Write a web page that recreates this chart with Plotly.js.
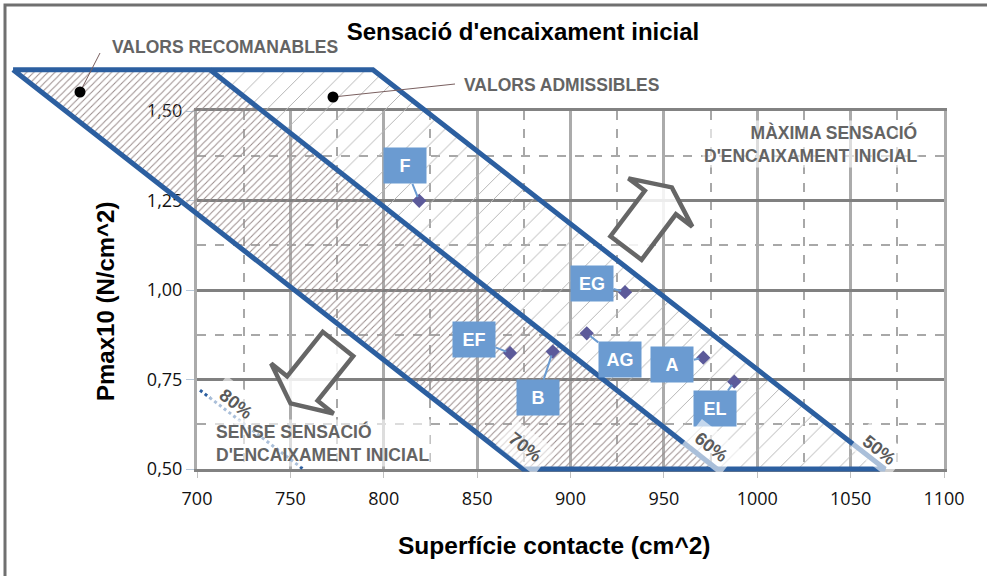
<!DOCTYPE html>
<html>
<head>
<meta charset="utf-8">
<script src="https://cdn.plot.ly/plotly-3.0.1.min.js"></script>
<style>
  html, body { margin: 0; padding: 0; background: #fff; }
  #chart { width: 987px; height: 576px; }
</style>
</head>
<body>
<div id="chart"></div>
<script>
// Measured points
const pointNames = ['F', 'EF', 'B', 'AG', 'EG', 'A', 'EL'];
const superficie = [819, 867.6, 890.5, 908.7, 929.2, 971.1, 987.7];
const pmax = [1.249, 0.824, 0.828, 0.879, 0.994, 0.811, 0.744];

// Zone limits: x where each percent line meets the top / bottom of the zones
const zoneY = [1.615, 0.5];
const line70 = [601.5, 874.6];
const line60 = [707, 978.4];
const line50 = [794.2, 1068.4];
const line80X = [701.6, 756.8];
const line80Y = [0.72, 0.5];

// Percent labels along the lines
const pctLabels = ['80%', '70%', '60%', '50%'];
const pctX = [720.9, 875.6, 975.2, 1065.2];
const pctY = [0.682, 0.561, 0.561, 0.553];

// Page geometry (pixels)
const W = 987, H = 576;
const plotLeft = 197, plotRight = 944, plotTop = 111, plotBottom = 469;
const xRange = [700, 1100];
const yRange = [0.5, 1.5];

// offsets of the label boxes from their points (px)
const labelAx = [-14, -36, -15, 33, -33, -31, -19];
const labelAy = [-35, -14, 46, 26, -9, 7, 27];

const px = x => x / W;
const py = y => 1 - y / H;

const xDom = [px(plotLeft), px(plotRight)];
const yDom = [py(plotBottom), py(plotTop)];
// second, invisible subplot covering the whole page with the same scale,
// so the zones can run outside the grid without being clipped
const xSpan = (xRange[1] - xRange[0]) / (xDom[1] - xDom[0]);
const ySpan = (yRange[1] - yRange[0]) / (yDom[1] - yDom[0]);
const x2Range = [xRange[0] - xDom[0] * xSpan, xRange[1] + (1 - xDom[1]) * xSpan];
const y2Range = [yRange[0] - yDom[0] * ySpan, yRange[1] + (1 - yDom[1]) * ySpan];

const blue = '#2c5fa0';
const boxBlue = '#6b9bd1';
const grayText = '#646464';

const traces = [];

// empty trace so the main grid subplot exists
traces.push({ x: [], y: [], type: 'scatter', xaxis: 'x', yaxis: 'y', hoverinfo: 'skip' });

// valors admissibles (sparse hatch)
traces.push({
    x: [line60[0], line50[0], line50[1], line60[1]],
    y: [zoneY[0], zoneY[0], zoneY[1], zoneY[1]],
    xaxis: 'x2', yaxis: 'y2',
    mode: 'lines', fill: 'toself',
    line: { width: 0, color: 'rgba(0,0,0,0)' },
    fillcolor: 'rgba(0,0,0,0)',
    fillpattern: { shape: '/', size: 14, solidity: 0.07, fgcolor: '#b5b5b5', bgcolor: 'rgba(0,0,0,0)' },
    hoverinfo: 'skip'
});

// valors recomanables (dense hatch)
traces.push({
    x: [line70[0], line60[0], line60[1], line70[1]],
    y: [zoneY[0], zoneY[0], zoneY[1], zoneY[1]],
    xaxis: 'x2', yaxis: 'y2',
    mode: 'lines', fill: 'toself',
    line: { width: 0, color: 'rgba(0,0,0,0)' },
    fillcolor: 'rgba(0,0,0,0)',
    fillpattern: { shape: '/', size: 5, solidity: 0.2, fgcolor: '#9a8c8c', bgcolor: 'rgba(0,0,0,0)' },
    hoverinfo: 'skip'
});

// outline of both zones
traces.push({
    x: [line70[0], line50[0], line50[1], line70[1], line70[0]],
    y: [zoneY[0], zoneY[0], zoneY[1], zoneY[1], zoneY[0]],
    xaxis: 'x2', yaxis: 'y2',
    mode: 'lines', line: { color: blue, width: 5 },
    hoverinfo: 'skip'
});
traces.push({
    x: line60, y: zoneY,
    xaxis: 'x2', yaxis: 'y2',
    mode: 'lines', line: { color: blue, width: 5 },
    hoverinfo: 'skip'
});

// 80% line
traces.push({
    x: line80X, y: line80Y,
    xaxis: 'x2', yaxis: 'y2',
    mode: 'lines', line: { color: blue, width: 3, dash: 'dot' },
    hoverinfo: 'skip'
});

// points
traces.push({
    x: superficie, y: pmax,
    xaxis: 'x2', yaxis: 'y2',
    mode: 'markers', type: 'scatter',
    marker: { symbol: 'diamond', size: 11, color: '#5c5a9a' },
    text: pointNames, hoverinfo: 'text+x+y'
});

const annotations = [];

pointNames.forEach((name, i) => {
    annotations.push({
        x: superficie[i], y: pmax[i], xref: 'x2', yref: 'y2',
        text: '<b>' + name + '</b>',
        showarrow: true, arrowhead: 0, arrowwidth: 2, arrowcolor: boxBlue,
        standoff: 4,
        ax: labelAx[i], ay: labelAy[i],
        bgcolor: boxBlue, width: 40, height: 33,
        font: { size: 18, color: '#ffffff' }
    });
});

pctLabels.forEach((t, i) => {
    annotations.push({
        x: pctX[i], y: pctY[i], xref: 'x2', yref: 'y2',
        text: '<b>' + t + '</b>', showarrow: false, textangle: 38,
        font: { size: 18, color: '#5a5a5a' },
        bgcolor: 'rgba(255,255,255,0.6)', borderpad: 6
    });
});

const notes = [
    { text: '<b>VALORS RECOMANABLES</b>', x: 110, y: 47, anchor: 'left' },
    { text: '<b>VALORS ADMISSIBLES</b>', x: 462, y: 85, anchor: 'left' },
    { text: "<b>MÀXIMA SENSACIÓ<br>D'ENCAIXAMENT INICIAL</b>", x: 919, y: 144, anchor: 'right' },
    { text: "<b>SENSE SENSACIÓ<br>D'ENCAIXAMENT INICIAL</b>", x: 214, y: 443, anchor: 'left' }
];
notes.forEach(n => {
    annotations.push({
        xref: 'paper', yref: 'paper', x: px(n.x), y: py(n.y),
        xanchor: n.anchor, yanchor: 'middle', align: n.anchor,
        text: n.text, showarrow: false,
        font: { size: 17.5, color: grayText },
        bgcolor: 'rgba(255,255,255,0.6)'
    });
});

// axis titles
annotations.push({
    xref: 'paper', yref: 'paper', x: px(554), y: py(545), xanchor: 'center', yanchor: 'middle',
    text: '<b>Superfície contacte (cm^2)</b>', showarrow: false,
    font: { size: 24.5, color: '#000' }
});
annotations.push({
    xref: 'paper', yref: 'paper', x: px(105), y: py(302), xanchor: 'center', yanchor: 'middle',
    text: '<b>Pmax10 (N/cm^2)</b>', showarrow: false, textangle: -90,
    font: { size: 24, color: '#000' }
});

// hollow block arrow, base midpoint (bx, by) in px, direction (ux, uy)
function blockArrow(bx, by, ux, uy) {
    const len = Math.hypot(ux, uy);
    ux /= len; uy /= len;
    const nx = -uy, ny = ux;
    const shaft = 57, head = 19, sw = 19.5, hw = 40;
    const pts = [
        [bx + nx * sw, by + ny * sw],
        [bx + ux * shaft + nx * sw, by + uy * shaft + ny * sw],
        [bx + ux * shaft + nx * hw, by + uy * shaft + ny * hw],
        [bx + ux * (shaft + head), by + uy * (shaft + head)],
        [bx + ux * shaft - nx * hw, by + uy * shaft - ny * hw],
        [bx + ux * shaft - nx * sw, by + uy * shaft - ny * sw],
        [bx - nx * sw, by - ny * sw]
    ];
    return 'M' + pts.map(p => px(p[0]).toFixed(4) + ',' + py(p[1]).toFixed(4)).join('L') + 'Z';
}

const shapes = [
    // frame
    { type: 'rect', xref: 'paper', yref: 'paper', x0: px(5), y0: py(5), x1: px(1000), y1: py(600),
      line: { color: '#707070', width: 3 } },
    // arrows
    { type: 'path', xref: 'paper', yref: 'paper', path: blockArrow(626, 248, 34, -45),
      fillcolor: 'rgba(255,255,255,0.85)', line: { color: '#666666', width: 4.5 } },
    { type: 'path', xref: 'paper', yref: 'paper', path: blockArrow(338, 344, -36, 45),
      fillcolor: 'rgba(255,255,255,0.85)', line: { color: '#666666', width: 4.5 } },
    // leader lines and dots
    { type: 'line', xref: 'paper', yref: 'paper', x0: px(80), y0: py(92), x1: px(100), y1: py(53),
      line: { color: '#7a6060', width: 1 } },
    { type: 'line', xref: 'paper', yref: 'paper', x0: px(333), y0: py(97), x1: px(455), y1: py(84),
      line: { color: '#7a6060', width: 1 } },
    { type: 'circle', xref: 'paper', yref: 'paper', x0: px(74.5), y0: py(86.5), x1: px(85.5), y1: py(97.5),
      fillcolor: '#000', line: { width: 0 } },
    { type: 'circle', xref: 'paper', yref: 'paper', x0: px(327.5), y0: py(91.5), x1: px(338.5), y1: py(102.5),
      fillcolor: '#000', line: { width: 0 } }
];

const tickFont = { family: 'Open Sans, sans-serif', size: 18, color: '#111' };

const layout = {
    width: W, height: H,
    margin: { l: 0, r: 0, t: 0, b: 0 },
    paper_bgcolor: '#ffffff',
    plot_bgcolor: 'rgba(0,0,0,0)',
    separators: ',.',
    showlegend: false,
    font: { family: 'Liberation Sans, Arial, sans-serif', color: '#222' },
    title: {
        text: "<b>Sensació d'encaixament inicial</b>",
        x: px(523), y: py(32), xanchor: 'center', yanchor: 'middle',
        font: { size: 24, color: '#000' }
    },
    xaxis: {
        domain: xDom, range: xRange, tick0: 700, dtick: 50,
        showgrid: true, gridcolor: '#ababab', gridwidth: 3,
        minor: { dtick: 25, showgrid: true, gridcolor: '#a8a8a8', griddash: 'dash', gridwidth: 2 },
        showline: true, mirror: true, linecolor: '#828282', linewidth: 3,
        ticks: 'outside', ticklen: 6, tickcolor: '#c0c0c0', ticklabelstandoff: 5,
        tickfont: tickFont, zeroline: false, automargin: false, fixedrange: true
    },
    yaxis: {
        domain: yDom, range: yRange, tick0: 0.5, dtick: 0.25, tickformat: '.2f',
        showgrid: true, gridcolor: '#808080', gridwidth: 3,
        minor: { dtick: 0.125, showgrid: true, gridcolor: '#a8a8a8', griddash: 'dash', gridwidth: 2 },
        showline: true, mirror: true, linecolor: '#ababab', linewidth: 3,
        ticks: 'outside', ticklen: 8, tickcolor: '#b8c8d8',
        tickfont: tickFont, zeroline: false, automargin: false, fixedrange: true
    },
    xaxis2: { domain: [0, 1], range: x2Range, anchor: 'y2', visible: false, fixedrange: true },
    yaxis2: { domain: [0, 1], range: y2Range, anchor: 'x2', visible: false, fixedrange: true },
    annotations: annotations,
    shapes: shapes
};

Plotly.newPlot('chart', traces, layout, { displayModeBar: false, staticPlot: true });
</script>
</body>
</html>
